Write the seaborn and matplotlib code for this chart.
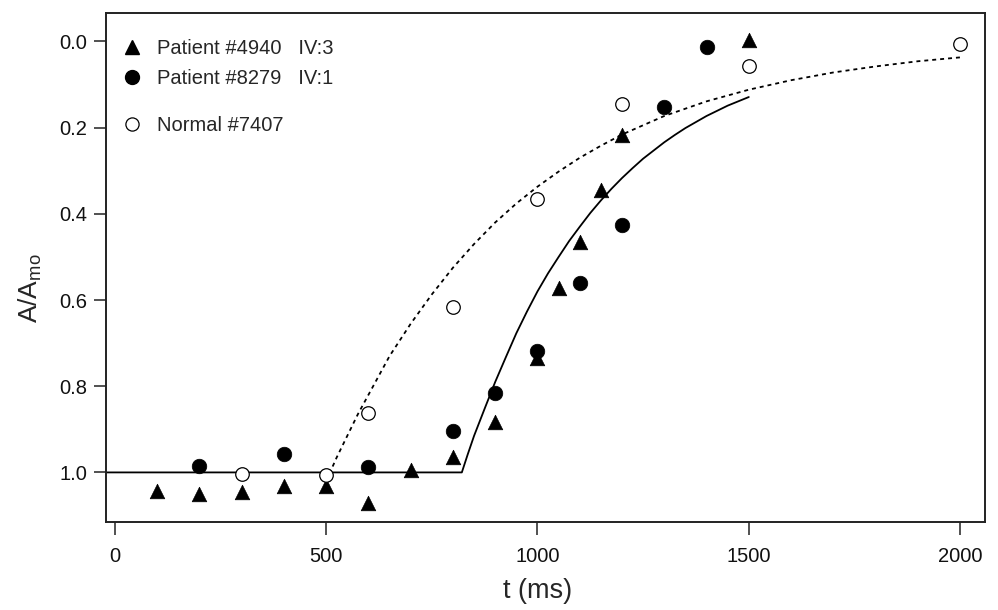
import pandas as pd
import seaborn as sns
import matplotlib.pyplot as plt
from matplotlib.lines import Line2D

# Data
t_4940 = [100, 200, 300, 400, 500, 600, 700, 800, 900, 1000, 1050, 1100, 1150, 1200, 1500]
a_4940 = [1.042, 1.051, 1.046, 1.032, 1.032, 1.072, 0.995, 0.965, 0.884, 0.734, 0.572, 0.465, 0.345, 0.218, -0.003]

t_8279 = [200, 400, 600, 800, 900, 1000, 1100, 1200, 1300, 1400]
a_8279 = [0.986, 0.958, 0.988, 0.903, 0.815, 0.718, 0.560, 0.426, 0.153, 0.014]

t_7407 = [300, 500, 600, 800, 1000, 1200, 1500, 2000]
a_7407 = [1.003, 1.005, 0.863, 0.616, 0.366, 0.146, 0.056, 0.007]

# fitted curves (read as points along the drawn lines)
fit_patient_t = [-25, 821, 835, 850, 875, 900, 925, 950, 975, 1000, 1025, 1050, 1075, 1100,
                 1125, 1150, 1175, 1200, 1225, 1250, 1275, 1300, 1325, 1350, 1375, 1400,
                 1425, 1450, 1475, 1500]
fit_patient_a = [1.0, 1.0, 0.958, 0.915, 0.852, 0.79, 0.733, 0.677, 0.627, 0.58, 0.538, 0.50,
                 0.463, 0.43, 0.398, 0.369, 0.342, 0.317, 0.294, 0.272, 0.253, 0.234, 0.217,
                 0.201, 0.187, 0.173, 0.161, 0.149, 0.139, 0.129]
fit_normal_t = [500, 525, 550, 575, 600, 650, 700, 750, 800, 850, 900, 950, 1000, 1050, 1100,
                1150, 1200, 1300, 1400, 1500, 1600, 1700, 1800, 1900, 2000]
fit_normal_a = [1.02, 0.965, 0.915, 0.865, 0.82, 0.73, 0.655, 0.587, 0.525, 0.47, 0.42, 0.376,
                0.337, 0.302, 0.27, 0.242, 0.216, 0.173, 0.139, 0.112, 0.09, 0.072, 0.058,
                0.046, 0.037]

sns.set_style("ticks")
plt.rcParams['font.family'] = ['Liberation Sans', 'DejaVu Sans']
plt.rcParams['mathtext.default'] = 'regular'

fig = plt.figure(figsize=(9.98, 6.1), dpi=100)
ax = fig.add_axes([0.1062, 0.1443, 0.8808, 0.8344])

df_fit1 = pd.DataFrame({"t": fit_patient_t, "a": fit_patient_a})
df_fit2 = pd.DataFrame({"t": fit_normal_t, "a": fit_normal_a})
sns.lineplot(data=df_fit1, x="t", y="a", ax=ax, color="black", lw=1.3, sort=False)
sns.lineplot(data=df_fit2, x="t", y="a", ax=ax, color="black", lw=1.3, sort=False,
             linestyle=(0, (2.2, 2.2)))

sns.scatterplot(x=t_4940, y=a_4940, ax=ax, marker="^", s=110, color="black",
                edgecolor="black", linewidth=0.5, zorder=3)
sns.scatterplot(x=t_8279, y=a_8279, ax=ax, marker="o", s=110, color="black",
                edgecolor="black", linewidth=0.5, zorder=3)
sns.scatterplot(x=t_7407, y=a_7407, ax=ax, marker="o", s=95, facecolor="white",
                edgecolor="black", linewidth=0.9, zorder=3)

ax.set_xlim(-21, 2059)
ax.set_ylim(1.115, -0.066)
ax.set_xticks([0, 500, 1000, 1500, 2000])
ax.set_yticks([0.0, 0.2, 0.4, 0.6, 0.8, 1.0])
ax.set_yticklabels(["0.0", "0.2", "0.4", "0.6", "0.8", "1.0"])
ax.tick_params(direction="out", length=9, width=1.1, labelsize=14.5, color="#222222",
               labelcolor="#111111")
ax.tick_params(axis="x", pad=9)
ax.tick_params(axis="y", pad=4.5)
for sp in ax.spines.values():
    sp.set_visible(True)
    sp.set_linewidth(1.4)
    sp.set_color("#222222")

ax.set_xlabel("t (ms)", fontsize=19.5)
ax.xaxis.set_label_coords(0.4909, -0.11)
ax.set_ylabel("A/A$_{mo}$", fontsize=19)
ax.yaxis.set_label_coords(-0.071, 0.46)

h1 = [Line2D([], [], marker="^", color="black", ls="none", markersize=10),
      Line2D([], [], marker="o", color="black", ls="none", markersize=10)]
leg1 = ax.legend(h1, ["Patient #4940   IV:3", "Patient #8279   IV:1"], loc="upper left",
                 bbox_to_anchor=(-0.003, 0.985), frameon=False, fontsize=14.5,
                 handlelength=1.0, handletextpad=0.75, labelspacing=0.56, borderaxespad=0.5)
ax.add_artist(leg1)
h2 = [Line2D([], [], marker="o", color="black", markerfacecolor="white", ls="none",
             markersize=9.5, markeredgewidth=0.9)]
ax.legend(h2, ["Normal #7407"], loc="upper left", bbox_to_anchor=(-0.003, 0.833),
          frameon=False, fontsize=14.5, handlelength=1.0, handletextpad=0.75,
          borderaxespad=0.5)

fig.savefig("out.png", dpi=100)
